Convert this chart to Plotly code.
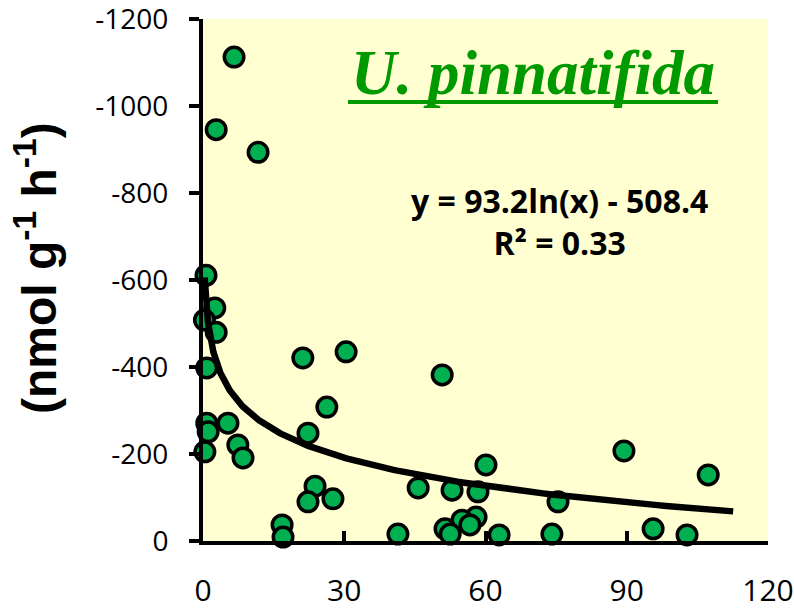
import numpy as np
import plotly.graph_objects as go

# ---- data ----
x_vals = [6.6, 2.8, 11.7, 0.64, 2.5, 0.3, 2.8, 0.8, 21.2, 30.4, 26.3, 0.8, 1.1, 5.3,
          22.3, 7.4, 8.5, 0.4, 23.8, 22.3, 27.6, 16.8, 17.0, 50.8, 60.1, 45.7, 52.9,
          58.4, 89.4, 107.3, 75.4, 58.0, 55.0, 56.7, 51.4, 52.5, 41.4, 62.9, 74.1,
          95.6, 102.8]
y_vals = [-1113, -946, -894, -611, -536, -508, -480, -398, -421, -435, -308, -271, -251, -271,
          -248, -221, -191, -205, -126, -90, -97, -37, -9, -382, -175, -122, -117,
          -113, -207, -152, -90, -55, -48, -37, -28, -16, -16, -14, -16,
          -28, -14]

# logarithmic trend line shown in the chart: y = a ln(x) + b
trend_a = 93.2
trend_b = -508.4
trend_x_range = [0.35, 112.6]

x_ticks = [0, 30, 60, 90, 120]
y_ticks = [-1200, -1000, -800, -600, -400, -200, 0]

title_text = "U. pinnatifida"
eq_text = "y = 93.2ln(x) - 508.4"
r2_text = "R² = 0.33"
y_title = "(nmol g<sup>-1</sup> h<sup>-1</sup>)"

# ---- layout geometry (pixels) ----
W, H = 794, 609
L, R, T, B = 203, 768, 19, 541


def px(xp):
    return (xp - L) / (R - L)


def py(yp):
    return (B - yp) / (B - T)


tx = np.geomspace(trend_x_range[0], trend_x_range[1], 300)
ty = trend_a * np.log(tx) + trend_b

fig = go.Figure()
fig.add_trace(go.Scatter(
    x=x_vals, y=y_vals, mode="markers",
    marker=dict(size=19.5, color="#00B050", line=dict(color="black", width=3.5)),
    showlegend=False, cliponaxis=False,
))
fig.add_trace(go.Scatter(
    x=tx, y=ty, mode="lines",
    line=dict(color="black", width=6.5),
    showlegend=False,
))

fig.update_layout(
    width=W, height=H,
    margin=dict(l=L, r=W - R, t=T, b=H - B, pad=0, autoexpand=False),
    paper_bgcolor="white",
    plot_bgcolor="#FFFFD1",
    xaxis=dict(
        range=[0, 120], tickvals=x_ticks, ticktext=[str(v) for v in x_ticks],
        showgrid=False, zeroline=False, automargin=False,
        showline=True, linecolor="black", linewidth=4,
        ticks="inside", ticklen=10, tickwidth=4, tickcolor="black",
        tickfont=dict(family="Open Sans", size=30, color="black"),
        ticklabelstandoff=20, ticklabeloverflow="allow",
    ),
    yaxis=dict(
        range=[0, -1200.5], tickvals=y_ticks, ticktext=[str(v) for v in y_ticks],
        showgrid=False, zeroline=False, automargin=False,
        showline=True, linecolor="black", linewidth=4,
        ticks="outside", ticklen=10, tickwidth=4, tickcolor="black",
        tickfont=dict(family="Open Sans", size=28, color="black"),
        ticklabelstandoff=15, ticklabeloverflow="allow",
    ),
    annotations=[
        dict(text=f"<b><i>{title_text}</i></b>", x=px(533), y=py(73),
             xref="paper", yref="paper", showarrow=False,
             xanchor="center", yanchor="middle",
             font=dict(family="Liberation Serif", size=63, color="#009900")),
        dict(text=f"<b>{eq_text}<br>{r2_text}</b>", x=px(559), y=py(222),
             xref="paper", yref="paper", showarrow=False,
             xanchor="center", yanchor="middle", align="center",
             font=dict(family="Open Sans", size=32, color="black")),
        dict(text=f"<b>{y_title}</b>", x=px(36), y=py(268),
             xref="paper", yref="paper", showarrow=False, textangle=-90,
             xanchor="center", yanchor="middle",
             font=dict(family="Liberation Sans", size=48, color="black")),
    ],
    shapes=[
        dict(type="line", xref="paper", yref="paper",
             x0=px(348), x1=px(718), y0=py(102), y1=py(102),
             line=dict(color="#009900", width=4)),
    ],
)

fig.write_html("out.html")
